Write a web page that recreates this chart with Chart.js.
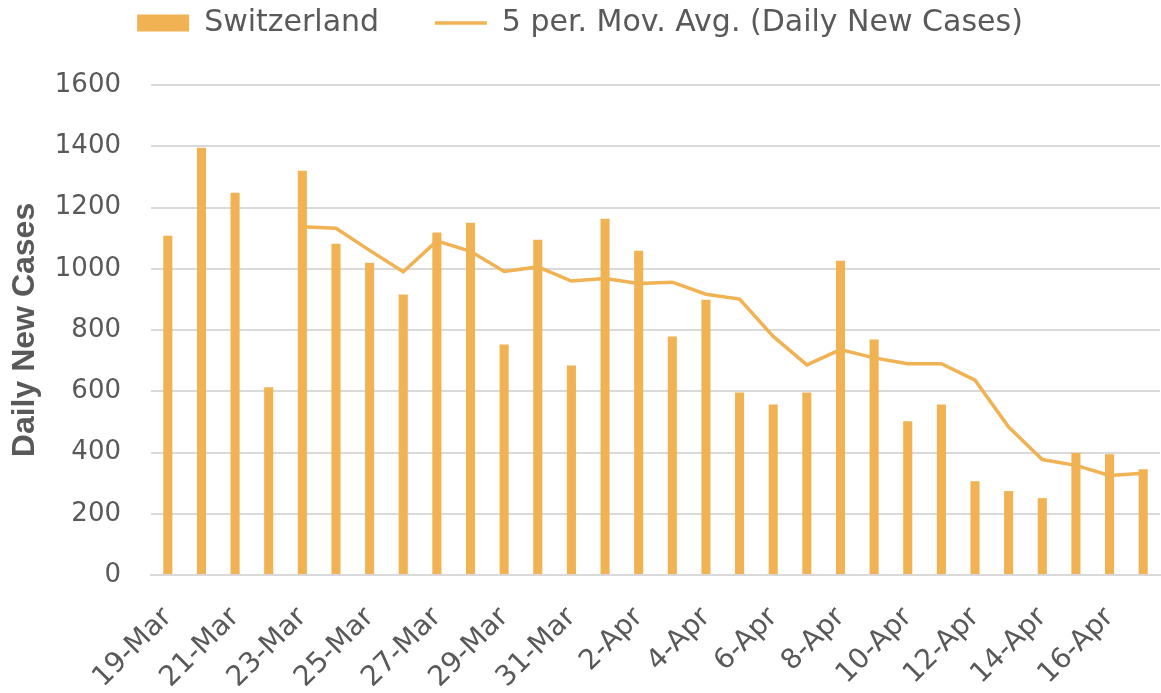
<!DOCTYPE html>
<html>
<head>
<meta charset="utf-8">
<script src="https://cdn.jsdelivr.net/npm/chart.js@4"></script>
<style>
  html, body { margin: 0; padding: 0; background: #fff; }
  .chart-box { width: 1161px; height: 693px; }
</style>
</head>
<body>
<div class="chart-box"><canvas id="chart"></canvas></div>
<script>
const dates = [
  '19-Mar', '20-Mar', '21-Mar', '22-Mar', '23-Mar', '24-Mar', '25-Mar', '26-Mar', '27-Mar', '28-Mar',
  '29-Mar', '30-Mar', '31-Mar', '1-Apr', '2-Apr', '3-Apr', '4-Apr', '5-Apr', '6-Apr', '7-Apr',
  '8-Apr', '9-Apr', '10-Apr', '11-Apr', '12-Apr', '13-Apr', '14-Apr', '15-Apr', '16-Apr', '17-Apr'
];
const dailyCases = [
  1108, 1395, 1248, 613, 1320, 1082, 1020, 916, 1118, 1150,
  753, 1095, 684, 1163, 1059, 779, 899, 596, 557, 596,
  1026, 769, 502, 557, 306, 274, 251, 398, 394, 345
];
const movingAvg = [
  null, null, null, null, 1137, 1132, 1060, 990, 1091, 1057,
  991, 1006, 960, 968, 952, 956, 917, 901, 779, 686,
  736, 709, 690, 690, 636, 483, 377, 358, 325, 332
];
const yTicks = [0, 200, 400, 600, 800, 1000, 1200, 1400, 1600];

const gold = '#F0B252';
const textGrey = '#595959';
const gridGrey = '#D9D9D9';

// give the legend some extra room underneath so the plot starts lower
const legendSpace = {
  id: 'legendSpace',
  beforeInit(chart) {
    const origFit = chart.legend.fit;
    chart.legend.fit = function () {
      origFit.bind(chart.legend)();
      this.height += 37;
    };
  },
};

new Chart(document.getElementById('chart'), {
  type: 'bar',
  data: {
    labels: dates,
    datasets: [
      {
        label: 'Switzerland',
        data: dailyCases,
        backgroundColor: gold,
        borderWidth: 0,
        barPercentage: 0.27,
        categoryPercentage: 1,
        pointStyle: 'rect',
        order: 2,
      },
      {
        type: 'line',
        label: '5 per. Mov. Avg. (Daily New Cases)',
        data: movingAvg,
        borderColor: gold,
        backgroundColor: gold,
        borderWidth: 3.5,
        pointRadius: 0,
        tension: 0,
        pointStyle: 'line',
        order: 1,
      },
    ],
  },
  plugins: [legendSpace],
  options: {
    responsive: true,
    maintainAspectRatio: false,
    animation: false,
    layout: { padding: { top: 0, right: 1, left: 0, bottom: 0 } },
    plugins: {
      tooltip: { enabled: false },
      legend: {
        position: 'top',
        labels: {
          usePointStyle: true,
          pointStyleWidth: 52,
          boxHeight: 17,
          padding: 8,
          color: textGrey,
          font: { family: 'DejaVu Sans', size: 30 },
          sort: (a, b) => a.datasetIndex - b.datasetIndex,
          generateLabels: (chart) => {
            const items = Chart.defaults.plugins.legend.labels.generateLabels(chart);
            // wider gap after the bar entry, like the original
            items.forEach((item) => {
              if (item.datasetIndex === 0) item.text = item.text + '\u00a0\u00a0\u00a0\u00a0\u00a0';
            });
            return items;
          },
        },
      },
    },
    scales: {
      x: {
        grid: { display: false, drawTicks: false },
        border: { color: gridGrey, width: 2 },
        ticks: {
          autoSkip: false,
          maxRotation: 45,
          minRotation: 45,
          padding: 26,
          color: textGrey,
          font: { family: 'DejaVu Sans', size: 28 },
          callback: function (value, index) {
            return index % 2 === 0 ? dates[index] : '';
          },
        },
        afterFit: (scale) => {
          scale.height = 118;
          scale.paddingLeft = 0;
          scale.paddingRight = 0;
        },
      },
      y: {
        min: 0,
        max: 1600,
        afterBuildTicks: (scale) => { scale.ticks = yTicks.map((v) => ({ value: v })); },
        grid: { color: gridGrey, lineWidth: 2, drawTicks: false },
        border: { display: false },
        ticks: {
          padding: 30,
          color: textGrey,
          font: { family: 'DejaVu Sans', size: 26 },
          callback: (value) => String(value),
        },
        title: {
          display: true,
          text: 'Daily New Cases',
          color: textGrey,
          font: { family: 'Liberation Sans', size: 32, weight: 'bold' },
          padding: { top: 6, bottom: 4 },
        },
        afterFit: (scale) => {
          scale.width = 151;
          scale.paddingTop = 0;
        },
      },
    },
  },
});
</script>
</body>
</html>
